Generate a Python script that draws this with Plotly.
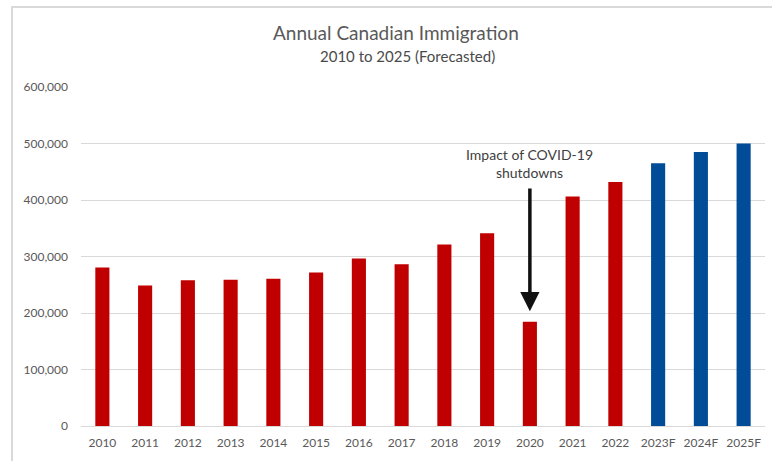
import plotly.graph_objects as go

years = ["2010", "2011", "2012", "2013", "2014", "2015", "2016", "2017",
         "2018", "2019", "2020", "2021", "2022", "2023F", "2024F", "2025F"]
immigrants = [280681, 248748, 257903, 259023, 260404, 271845, 296370, 286479,
              321035, 341180, 184595, 405999, 431645, 465000, 485000, 500000]
is_forecast = [y.endswith("F") for y in years]
colors = ["#004C97" if f else "#C00000" for f in is_forecast]

title = "Annual Canadian Immigration"
subtitle = "2010 to 2025 (Forecasted)"
note = "Impact of COVID-19<br>shutdowns"
note_year = "2020"
arrow_tip = 203000
arrow_tail = 423000

FONT = "Lato"
GRAY = "#595959"

fig = go.Figure(go.Bar(
    x=years, y=immigrants, marker=dict(color=colors, line=dict(width=0)),
    hoverinfo="x+y",
))

W, H = 772, 461
L, R, T, B = 81, 7, 87, 35
pw, ph = W - L - R, H - T - B

def px_x(px):
    return (px - L) / pw

def px_y(py):
    return (H - B - py) / ph

note_idx = years.index(note_year)

fig.update_layout(
    width=W, height=H,
    margin=dict(l=L, r=R, t=T, b=B),
    paper_bgcolor="white", plot_bgcolor="white",
    bargap=0.67,
    showlegend=False,
    font=dict(family=FONT, color=GRAY, size=12),
    xaxis=dict(type="category", range=[-0.5, len(years) - 0.5],
               categoryorder="array", categoryarray=years,
               showgrid=False, showline=False, ticks="",
               tickfont=dict(size=12, color=GRAY), ticklabelstandoff=8),
    yaxis=dict(range=[0, 600000], tickvals=[0, 100000, 200000, 300000, 400000, 500000, 600000],
               tickformat=",", showgrid=True, gridcolor="#d9d9d9", gridwidth=1,
               zeroline=True, zerolinecolor="#d9d9d9", zerolinewidth=1,
               showline=False, ticks="", tickfont=dict(size=12, color=GRAY),
               ticklabelstandoff=12),
    annotations=[
        dict(text=title, xref="paper", yref="paper", x=px_x(396), y=px_y(32),
             showarrow=False, xanchor="center", yanchor="middle",
             font=dict(size=19, color=GRAY, family=FONT)),
        dict(text=subtitle, xref="paper", yref="paper", x=px_x(407), y=px_y(56),
             showarrow=False, xanchor="center", yanchor="middle",
             font=dict(size=15, color="#4a4a4a", family=FONT)),
        dict(text=note, xref="x", yref="paper", x=note_idx, y=px_y(163),
             showarrow=False, xanchor="center", yanchor="middle",
             font=dict(size=14, color="#404040", family=FONT)),
        dict(text="", x=note_idx, y=arrow_tip, ax=note_idx, ay=arrow_tail,
             xref="x", yref="y", axref="x", ayref="y",
             showarrow=True, arrowhead=2, arrowsize=1.1, arrowwidth=3.5,
             arrowcolor="#111111", standoff=0),
    ],
    shapes=[
        dict(type="rect", xref="paper", yref="paper",
             x0=px_x(12), x1=px_x(790), y0=px_y(480), y1=px_y(7),
             line=dict(color="#d9d9d9", width=2), fillcolor="rgba(0,0,0,0)", layer="below"),
    ],
)

fig.write_html("out.html")
